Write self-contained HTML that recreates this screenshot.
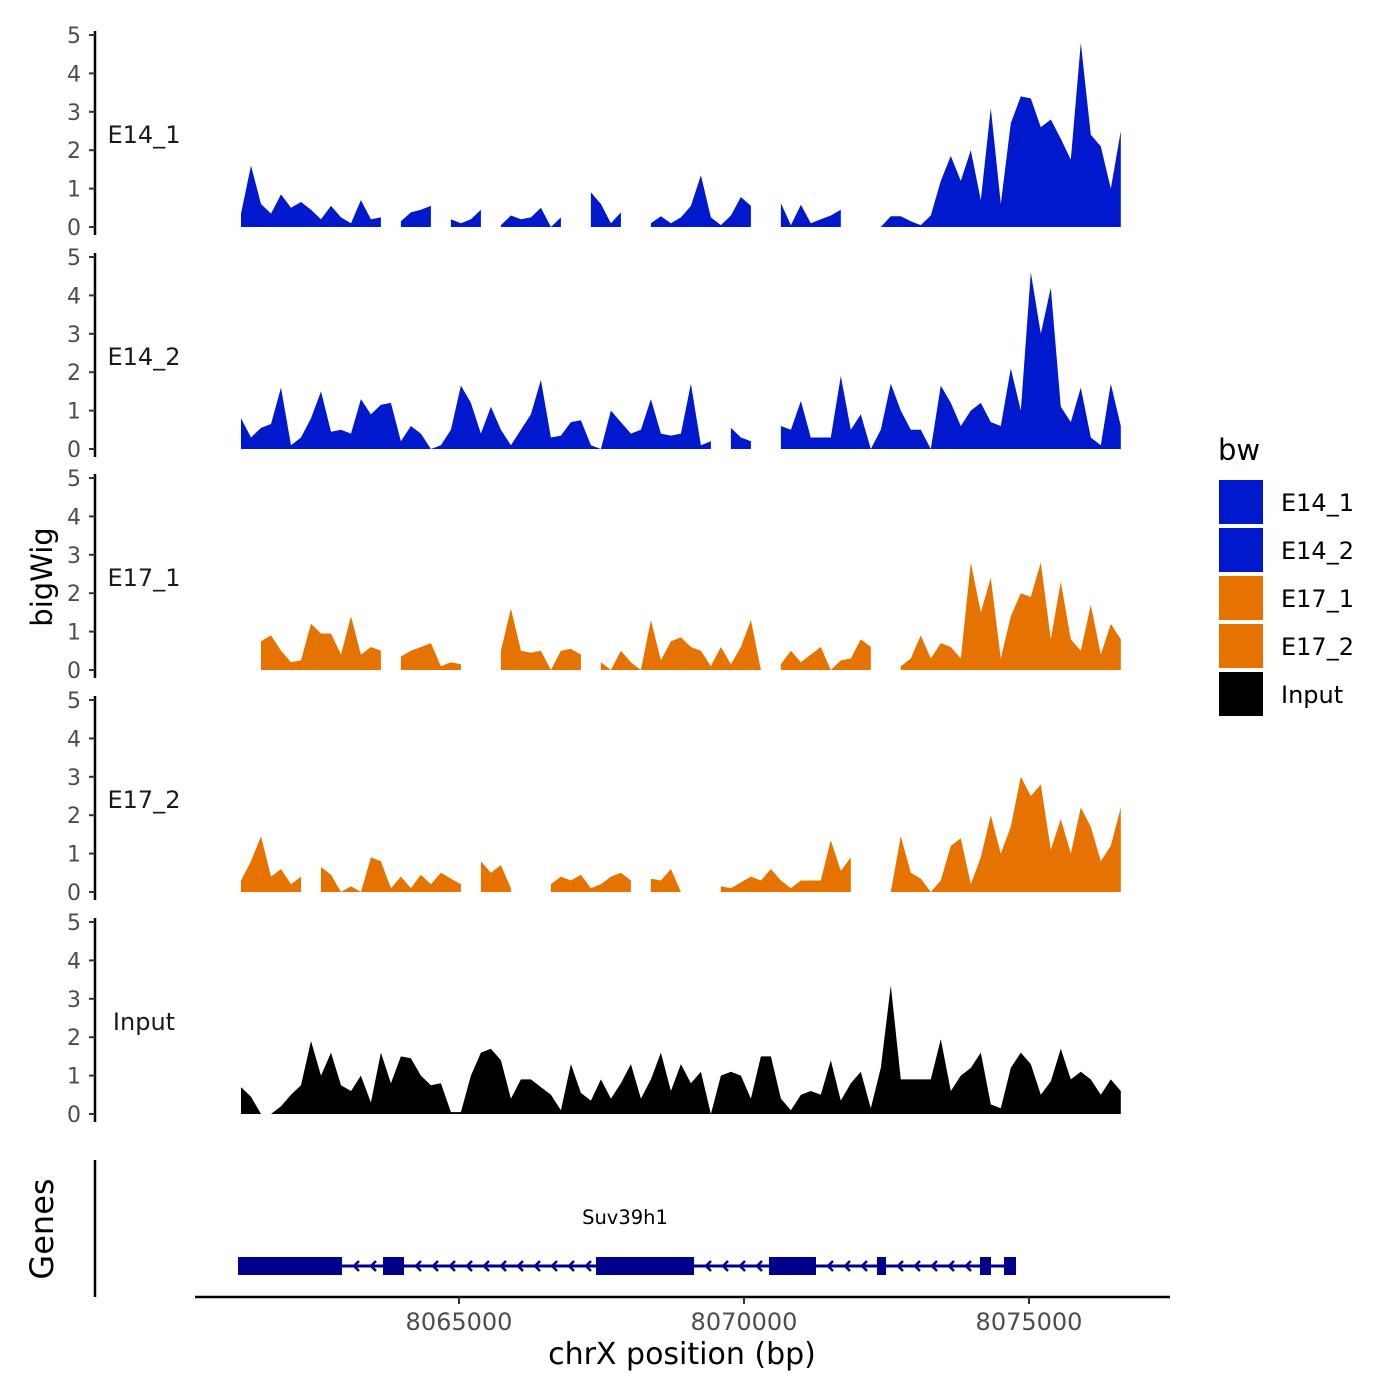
<!DOCTYPE html>
<html><head><meta charset="utf-8"><style>
body{margin:0;background:#fff}
svg{display:block;font-family:"DejaVu Sans","Liberation Sans",sans-serif}
</style></head><body>
<svg id="chart" width="1400" height="1400" viewBox="0 0 1400 1400" xmlns="http://www.w3.org/2000/svg"></svg>
<script>
const trackNames = ["E14_1","E14_2","E17_1","E17_2","Input"];
const trackColors = ["#0019CC","#0019CC","#E67300","#E67300","#000000"];
const binStart = 8061175;
const binSize = 175.4;
const yTicks = [0,1,2,3,4,5];
const xTicks = [8065000,8070000,8075000];
const xTickLabels = ["8065000","8070000","8075000"];
const N = null;
const e14_1 = [0.35,1.6,0.6,0.35,0.85,0.5,0.65,0.45,0.2,0.55,0.25,0.1,0.7,0.2,0.25,N,0.15,0.38,0.45,0.55,N,0.2,0.1,0.2,0.45,N,0.05,0.3,0.2,0.25,0.5,0,0.25,N,N,0.9,0.6,0.1,0.38,N,N,0.1,0.28,0.1,0.25,0.55,1.35,0.25,0.05,0.3,0.78,0.55,N,N,0.62,0.05,0.58,0.1,0.2,0.3,0.45,N,N,N,0,0.28,0.28,0.15,0.05,0.3,1.2,1.85,1.2,2.0,0.7,3.1,0.6,2.7,3.4,3.35,2.6,2.8,2.3,1.75,4.8,2.4,2.1,1.0,2.5];
const e14_2 = [0.8,0.3,0.55,0.65,1.6,0.1,0.3,0.8,1.5,0.45,0.5,0.4,1.3,0.9,1.15,1.2,0.2,0.6,0.4,0,0.1,0.5,1.65,1.2,0.4,1.1,0.5,0.1,0.5,0.9,1.8,0.3,0.35,0.7,0.75,0.1,0,1.0,0.7,0.4,0.5,1.3,0.4,0.35,0.4,1.7,0.1,0.2,N,0.55,0.3,0.2,N,N,0.6,0.5,1.25,0.3,0.3,0.3,1.9,0.5,0.9,0,0.5,1.7,1.0,0.5,0.5,0,1.65,1.2,0.6,1.0,1.2,0.7,0.6,2.1,1.0,4.6,3.0,4.2,1.1,0.7,1.6,0.3,0.1,1.7,0.6];
const e17_1 = [0.25,N,0.75,0.9,0.5,0.2,0.25,1.2,0.95,0.95,0.4,1.4,0.4,0.6,0.5,N,0.35,0.5,0.6,0.7,0.1,0.2,0.15,N,N,N,0.5,1.6,0.5,0.45,0.5,0,0.5,0.55,0.4,N,0.2,0,0.5,0.2,0,1.3,0.25,0.75,0.85,0.6,0.5,0.1,0.6,0.15,0.6,1.3,0,N,0.15,0.5,0.2,0.4,0.6,0,0.25,0.3,0.8,0.6,N,N,0.1,0.3,0.9,0.3,0.7,0.6,0.3,2.8,1.5,2.4,0.3,1.4,2.0,1.9,2.8,0.8,2.3,0.8,0.5,1.7,0.4,1.2,0.8];
const e17_2 = [0.3,0.8,1.45,0.4,0.6,0.2,0.4,N,0.65,0.45,0,0.15,0,0.9,0.8,0.1,0.4,0.1,0.45,0.2,0.5,0.35,0.2,N,0.8,0.5,0.7,0.1,N,N,N,0.2,0.4,0.3,0.45,0.1,0.2,0.4,0.5,0.3,N,0.35,0.3,0.6,0,N,N,N,0.15,0.1,0.25,0.4,0.3,0.6,0.3,0.1,0.3,0.3,0.3,1.35,0.55,0.9,N,N,N,0,1.45,0.5,0.35,0,0.3,1.2,1.4,0.2,0.9,2.0,1.0,1.7,3.0,2.5,2.8,1.1,1.9,1.0,2.2,1.7,0.8,1.2,2.2];
const input = [0.7,0.45,0,0,0.2,0.5,0.75,1.9,1.0,1.6,0.75,0.6,1.0,0.3,1.6,0.8,1.5,1.45,1.0,0.75,0.8,0.05,0.05,1.0,1.6,1.7,1.4,0.4,0.9,0.9,0.7,0.5,0.1,1.3,0.55,0.35,0.9,0.4,0.8,1.3,0.4,0.9,1.6,0.6,1.3,0.8,1.1,0,1.0,1.1,1.0,0.4,1.5,1.5,0.4,0.1,0.5,0.6,0.5,1.4,0.35,0.8,1.1,0.15,1.2,3.35,0.9,0.9,0.9,0.9,1.95,0.6,1.0,1.2,1.6,0.25,0.15,1.2,1.6,1.3,0.5,0.85,1.7,0.9,1.1,0.9,0.5,0.9,0.6];
const trackValues = [e14_1,e14_2,e17_1,e17_2,input];
const exonStarts = [8061123,8063667,8067404,8070439,8072333,8074140,8074561];
const exonEnds = [8062947,8064035,8069123,8071263,8072491,8074333,8074772];
const geneStart = 8061123, geneEnd = 8074772;

const NS="http://www.w3.org/2000/svg";
const svg=document.getElementById('chart');
function mk(tag,attrs,parent){const e=document.createElementNS(NS,tag);for(const k in attrs)e.setAttribute(k,attrs[k]);(parent||svg).appendChild(e);return e;}
function xScale(bp){return 459+(bp-8065000)*0.057;}
const zeros=[227,449,670,892,1114];
const pxPerUnit=38.4;

trackValues.forEach((vals,t)=>{
  const y0=zeros[t];
  const yS=v=>y0-v*pxPerUnit;
  const g=mk('g',{});
  
  
  let seg=[];
  const segs=[];
  vals.forEach((v,i)=>{
    if(v===null){if(seg.length)segs.push(seg);seg=[];}
    else seg.push([xScale(binStart+i*binSize),yS(v)]);
  });
  if(seg.length)segs.push(seg);
  segs.forEach(s=>{
    let d='M'+s[0][0]+','+y0;
    s.forEach(p=>{d+=' L'+p[0].toFixed(1)+','+p[1].toFixed(1);});
    d+=' L'+s[s.length-1][0].toFixed(1)+','+y0+' Z';
    const p=mk('path',{d:d,fill:trackColors[t]},g);
    
    
  });
  const ax=mk('line',{x1:95,x2:95,y1:yS(5)-4,y2:y0+8,stroke:'#000','stroke-width':2.5},g);
  
  
  yTicks.forEach(v=>{
    mk('line',{x1:89,x2:95,y1:yS(v),y2:yS(v),stroke:'#333','stroke-width':2},g);
    const tx=mk('text',{x:81,y:yS(v)+8,'text-anchor':'end','font-size':22,fill:'#4d4d4d'},g);
    tx.textContent=String(v);
    
    
  });
  const lb=mk('text',{x:144,y:y0-84,'text-anchor':'middle','font-size':24,fill:'#1a1a1a'},g);
  lb.textContent=trackNames[t];
  
  
});

const gg=mk('g',{});


mk('line',{x1:95,x2:95,y1:1160,y2:1297,stroke:'#000','stroke-width':2.5},gg);
mk('line',{x1:xScale(geneStart),x2:xScale(geneEnd),y1:1266,y2:1266,stroke:'#00008B','stroke-width':3},gg);
for(let i=0;i<exonStarts.length-1;i++){
  const a=xScale(exonEnds[i]),b=xScale(exonStarts[i+1]);
  for(let x=a+12;x<b-6;x+=17){
    mk('polyline',{points:(x+5)+',1261 '+x+',1266 '+(x+5)+',1271',fill:'none',stroke:'#00008B','stroke-width':2.5},gg);
  }
}
exonStarts.forEach((s,i)=>{
  const r=mk('rect',{x:xScale(s),y:1257,width:xScale(exonEnds[i])-xScale(s),height:18,fill:'#00008B'},gg);
  
  
});
const gn=mk('text',{x:625,y:1224,'text-anchor':'middle','font-size':19.5,fill:'#000'},gg);
gn.textContent='Suv39h1';



const xa=mk('line',{x1:195,x2:1170,y1:1297,y2:1297,stroke:'#000','stroke-width':2.5});


xTicks.forEach((v,i)=>{
  mk('line',{x1:xScale(v),x2:xScale(v),y1:1297,y2:1304,stroke:'#333','stroke-width':2});
  const tx=mk('text',{x:xScale(v),y:1330,'text-anchor':'middle','font-size':24,fill:'#4d4d4d'});
  tx.textContent=xTickLabels[i];
  
  
});
const xt=mk('text',{x:682,y:1364,'text-anchor':'middle','font-size':30,fill:'#000'});
xt.textContent='chrX position (bp)';


const yt=mk('text',{x:0,y:0,'text-anchor':'middle','font-size':29,fill:'#000',transform:'translate(52,577) rotate(-90)'});
yt.textContent='bigWig';


const gt=mk('text',{x:0,y:0,'text-anchor':'middle','font-size':32,fill:'#000',transform:'translate(53,1229) rotate(-90)'});
gt.textContent='Genes';



const lg=mk('g',{});


const lt=mk('text',{x:1218,y:460,'font-size':29,fill:'#000'},lg);
lt.textContent='bw';
const legendLabels=["E14_1","E14_2","E17_1","E17_2","Input"];
legendLabels.forEach((l,i)=>{
  const e=mk('g',{},lg);
  
  
  mk('rect',{x:1219,y:480+i*48,width:44,height:44,fill:trackColors[i]},e);
  const t=mk('text',{x:1281,y:511+i*48,'font-size':24,fill:'#000'},e);
  t.textContent=l;
});
</script>
</body></html>
